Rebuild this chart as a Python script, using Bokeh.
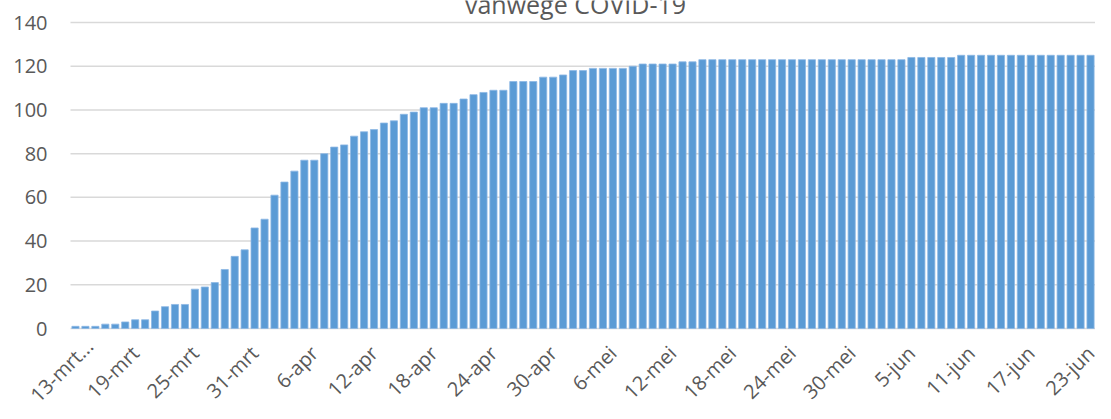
import math
from bokeh.plotting import figure
from bokeh.models import ColumnDataSource, Range1d
from bokeh.core.properties import value
from bokeh.embed import file_html
from bokeh.resources import INLINE

# --- data -------------------------------------------------------------
months = [("mrt", 13, 31), ("apr", 1, 30), ("mei", 1, 31), ("jun", 1, 23)]
dates = [f"{d}-{m}" for m, a, b in months for d in range(a, b + 1)]

values = [1, 1, 1, 2, 2, 3, 4, 4, 8, 10, 11, 11, 18, 19, 21, 27, 33, 36, 46, 50,
          61, 67, 72, 77, 77, 80, 83, 84, 88, 90, 91, 94, 95, 98, 99, 101, 101,
          103, 103, 105, 107, 108, 109, 109, 113, 113, 113, 115, 115, 116, 118,
          118, 119, 119, 119, 119, 120, 121, 121, 121, 121, 122, 122,
          123, 123, 123, 123, 123, 123, 123, 123, 123, 123, 123, 123, 123, 123,
          123, 123, 123, 123, 123, 123, 123,
          124, 124, 124, 124, 124,
          125, 125, 125, 125, 125, 125, 125, 125, 125, 125, 125, 125, 125, 125]

tick_labels = ["13-mrt...", "19-mrt", "25-mrt", "31-mrt", "6-apr", "12-apr",
               "18-apr", "24-apr", "30-apr", "6-mei", "12-mei", "18-mei",
               "24-mei", "30-mei", "5-jun", "11-jun", "17-jun", "23-jun"]
y_ticks = [0, 20, 40, 60, 80, 100, 120, 140]
title_text = "vanwege COVID-19"

# --- layout (pixels) --------------------------------------------------
W, H = 1095, 403
PLOT_L, PLOT_R, PLOT_T, PLOT_B = 70, 1095, 22, 328
n = len(values)
ymax = y_ticks[-1]
px_x = (PLOT_R - PLOT_L) / n
px_y = (PLOT_B - PLOT_T) / ymax
x0 = -0.5 - PLOT_L / px_x
x1 = n - 0.5 + (W - PLOT_R) / px_x
y1 = ymax + PLOT_T / px_y
y0 = -(H - PLOT_B) / px_y

GREY = "#595959"
GRID = "#D9D9D9"
FONT = value("Open Sans")

p = figure(width=W, height=H, output_backend="svg", toolbar_location=None,
           x_range=Range1d(x0, x1), y_range=Range1d(y0, y1), min_border=0)
p.outline_line_color = None
p.background_fill_color = "white"
p.border_fill_color = "white"
p.xaxis.visible = False
p.yaxis.visible = False
p.xgrid.visible = False
p.ygrid.visible = False

# horizontal grid lines (the 0 line doubles as the category axis)
p.segment(x0=[-0.5] * len(y_ticks), x1=[n - 0.5] * len(y_ticks),
          y0=y_ticks, y1=y_ticks, line_color=GRID, line_width=1.5)

# bars
src = ColumnDataSource(dict(x=list(range(n)), top=values, date=dates))
p.vbar(x="x", top="top", bottom=0, width=0.72, source=src,
       fill_color="#5B9BD5", line_color="#8DB8E4", line_width=0.8)

# y tick labels
p.text(x=[-0.5 - 23 / px_x] * len(y_ticks), y=y_ticks,
       text=[str(v) for v in y_ticks], text_align="right",
       text_baseline="middle", text_font=FONT, text_font_size="20px",
       text_color=GREY)

# rotated date labels every 6th day
tick_pos = list(range(0, n, 6))
lab_x = [t + (1.4 if i == 0 else 0.0) for i, t in enumerate(tick_pos)]
lab_y = [-(14 if i == 0 else 21) / px_y for i in range(len(tick_pos))]
p.text(x=lab_x, y=lab_y, text=tick_labels, angle=math.pi / 4,
       text_align="right", text_baseline="middle", text_font=FONT,
       text_font_size="20px", text_color=GREY)

# title (its upper part falls outside the picture, as in the original)
p.text(x=[(575 - PLOT_L) / px_x - 0.5], y=[ymax + 19 / px_y], text=[title_text],
       text_align="center", text_baseline="alphabetic", text_font=FONT,
       text_font_size="25px", text_color=GREY)

open("out.html", "w").write(file_html(p, INLINE))
